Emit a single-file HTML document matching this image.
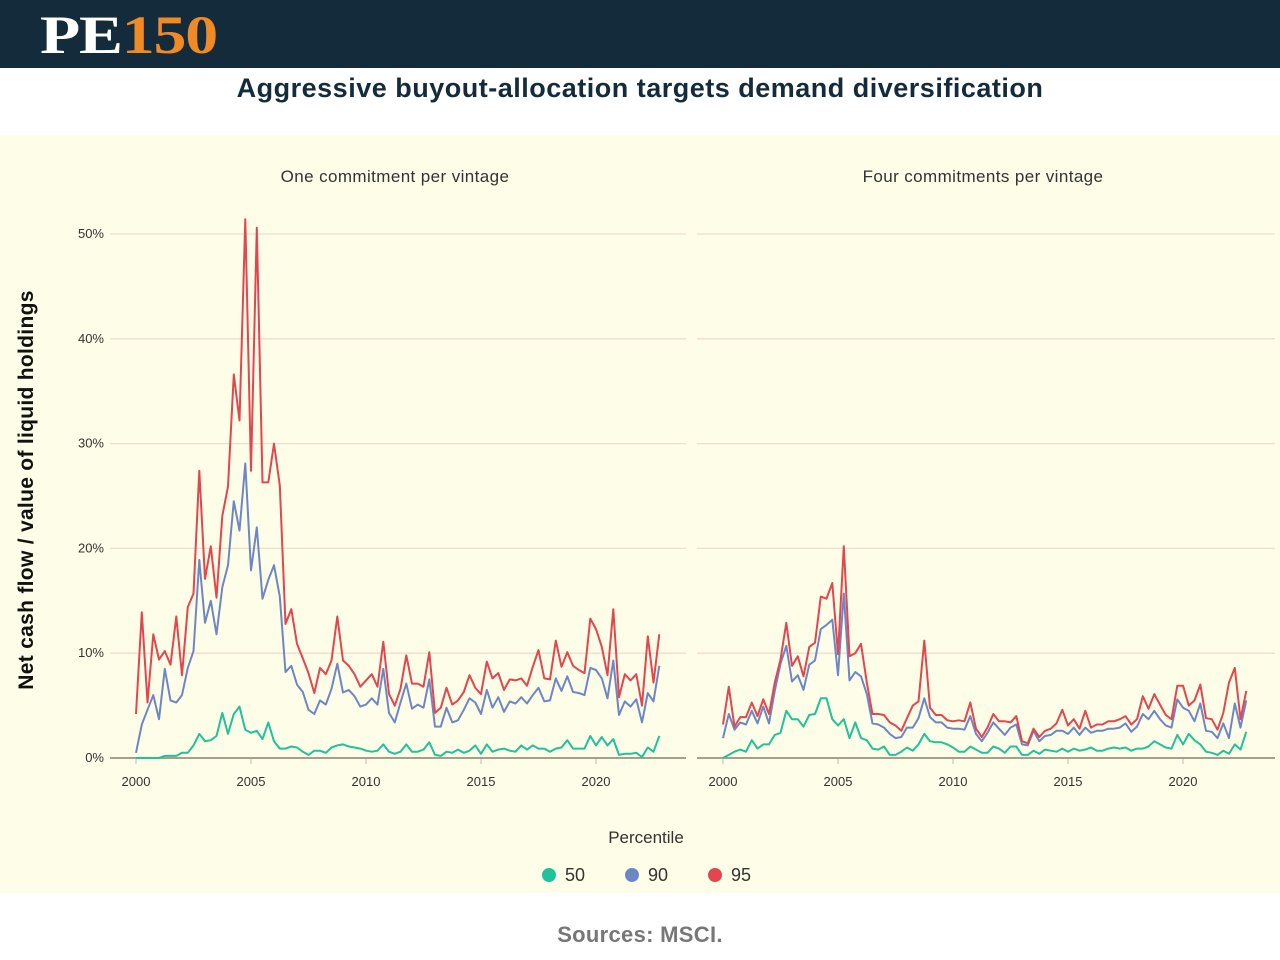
<!DOCTYPE html>
<html><head><meta charset="utf-8"><style>
body{margin:0;width:1280px;height:960px;background:#fff;font-family:"Liberation Sans",sans-serif;overflow:hidden}
#hdr{position:absolute;left:0;top:0;width:1280px;height:68px;background:#132b3a}
#logo{position:absolute;left:40px;top:4px;font-family:"Liberation Serif",serif;font-weight:bold;font-size:54px;letter-spacing:-1px;transform:scaleX(1.22);transform-origin:0 0}
#title{position:absolute;top:73px;width:1280px;text-align:center;font-size:27px;font-weight:bold;color:#132b3a;letter-spacing:0.5px}
#panel{position:absolute;left:0;top:135px;width:1280px;height:758px;background:#fefde8}
#src{position:absolute;top:922px;width:1280px;text-align:center;font-size:22px;font-weight:bold;color:#777;letter-spacing:0.3px}
</style></head><body>
<div id="hdr"><div id="logo"><span style="color:#fff">PE</span><span style="color:#f08a24">150</span></div></div>
<div id="title">Aggressive buyout-allocation targets demand diversification</div>
<div id="panel"></div>
<svg id="chart" width="1280" height="960" style="position:absolute;left:0;top:0" font-family="Liberation Sans, sans-serif"></svg>
<div id="src">Sources: MSCI.</div>
<script>
const percentiles=["50","90","95"];
const yTicks=[0,10,20,30,40,50];
const xTicks=[2000,2005,2010,2015,2020];
const panelTitles=["One commitment per vintage","Four commitments per vintage"];
const oneP50=[0,0,0,0,0,0.2,0.2,0.2,0.5,0.5,1.2,2.3,1.6,1.7,2.1,4.3,2.3,4.2,4.9,2.7,2.4,2.6,1.8,3.4,1.6,0.9,0.9,1.1,1.0,0.6,0.3,0.7,0.7,0.5,1.0,1.2,1.3,1.1,1.0,0.9,0.7,0.6,0.7,1.3,0.6,0.4,0.6,1.3,0.6,0.6,0.8,1.5,0.3,0.2,0.6,0.5,0.8,0.5,0.7,1.2,0.4,1.3,0.6,0.8,0.9,0.7,0.6,1.2,0.8,1.2,0.9,0.9,0.6,0.9,1.0,1.7,0.9,0.9,0.9,2.1,1.2,2.0,1.2,1.8,0.3,0.4,0.4,0.5,0.1,1.0,0.6,2.1];
const oneP90=[0.5,3.2,4.6,6,3.7,8.5,5.5,5.3,6,8.6,10.2,18.9,12.9,15,11.8,16.3,18.4,24.5,21.7,28.1,17.9,22,15.2,17,18.4,15.4,8.2,8.8,7,6.3,4.6,4.2,5.5,5.1,6.6,9.0,6.25,6.5,5.9,4.9,5.1,5.7,5.1,8.5,4.3,3.4,5.3,7.1,4.7,5.1,4.8,7.5,3.0,3.0,4.8,3.4,3.6,4.6,5.7,5.3,4.2,6.5,4.8,5.8,4.4,5.4,5.2,5.8,5.2,6.0,6.7,5.4,5.5,7.6,6.4,7.8,6.3,6.2,6.0,8.6,8.4,7.6,5.7,9.3,4.1,5.4,4.9,5.6,3.4,6.2,5.4,8.8];
const oneP95=[4.2,13.9,5.3,11.8,9.4,10.2,8.9,13.5,7.9,14.4,15.7,27.4,17.1,20.2,15.3,23.1,25.9,36.6,32.2,51.4,27.4,50.6,26.3,26.3,30,26,12.8,14.2,10.9,9.5,8.1,6.2,8.6,8.0,9.3,13.5,9.3,8.8,8.0,6.8,7.4,8.0,6.8,11.1,6.1,5.0,6.6,9.8,7.1,7.1,6.8,10.1,4.3,4.8,6.7,5.1,5.5,6.3,7.9,6.7,6.1,9.2,7.6,8.1,6.5,7.5,7.4,7.6,6.9,8.7,10.3,7.6,7.5,11.2,8.7,10.1,8.8,8.4,8.1,13.3,12.3,10.6,7.9,14.2,5.8,8.0,7.4,8.0,5.0,11.6,7.2,11.8];
const fourP50=[0,0.3,0.6,0.8,0.6,1.7,0.9,1.3,1.3,2.2,2.4,4.5,3.7,3.7,3.0,4.1,4.2,5.7,5.7,3.7,3.1,3.7,1.9,3.4,1.9,1.7,0.9,0.8,1.1,0.3,0.3,0.6,1.0,0.7,1.3,2.3,1.6,1.5,1.5,1.3,1.0,0.6,0.6,1.1,0.8,0.5,0.5,1.1,0.9,0.5,1.1,1.1,0.3,0.3,0.7,0.4,0.8,0.7,0.6,0.9,0.6,0.9,0.7,0.8,1.0,0.7,0.7,0.9,1.0,0.9,1.0,0.7,0.9,0.9,1.1,1.6,1.3,1.0,0.9,2.2,1.3,2.3,1.7,1.3,0.6,0.5,0.3,0.7,0.4,1.3,0.8,2.5];
const fourP90=[1.9,4.2,2.7,3.4,3.2,4.5,3.3,4.9,3.3,6.4,9.0,10.7,7.3,7.9,6.5,8.9,9.3,12.3,12.7,13.2,7.9,15.7,7.4,8.2,7.8,6.1,3.3,3.2,2.9,2.3,1.9,2.0,2.9,2.9,3.8,5.7,3.9,3.4,3.4,2.9,2.8,2.8,2.7,4.0,2.3,1.6,2.4,3.4,2.8,2.2,2.9,3.2,1.3,1.2,2.6,1.6,2.1,2.2,2.6,2.6,2.3,2.9,2.2,2.9,2.4,2.6,2.6,2.8,2.8,2.9,3.3,2.5,3.0,4.2,3.7,4.5,3.7,3.1,2.9,5.6,4.8,4.5,3.5,5.2,2.6,2.5,1.9,3.3,1.9,5.2,2.9,5.5];
const fourP95=[3.2,6.8,3.0,3.9,3.9,5.3,4.0,5.6,4.2,7.2,9.4,12.9,8.8,9.7,7.8,10.6,11.0,15.4,15.2,16.7,9.9,20.2,9.7,10.0,10.9,7.2,4.2,4.2,4.1,3.4,3.1,2.6,3.8,5.0,5.4,11.2,4.8,4.1,4.1,3.6,3.5,3.6,3.5,5.3,2.8,2.0,2.9,4.2,3.5,3.5,3.4,4.0,1.6,1.4,2.8,2.0,2.6,2.8,3.3,4.6,3.1,3.7,2.8,4.5,2.9,3.2,3.2,3.5,3.5,3.7,4.0,3.2,3.7,5.9,4.7,6.1,5.1,4.1,3.7,6.9,6.9,5.0,5.5,7.0,3.8,3.7,2.7,4.3,7.2,8.6,3.7,6.4];
const colors=["#1fc29a","#6d87c6","#e2464f"];
const NS="http://www.w3.org/2000/svg";
const svg=document.getElementById('chart');
function mk(t,a){const e=document.createElementNS(NS,t);for(const k in a)e.setAttribute(k,a[k]);svg.appendChild(e);return e;}
const yS=v=>758-v*10.48;
const panels=[{x0:136,gx0:110,gx1:686,cx:395,data:[oneP50,oneP90,oneP95]},{x0:723,gx0:697,gx1:1275,cx:983,data:[fourP50,fourP90,fourP95]}];
panels.forEach((p,pi)=>{
 const xS=yr=>p.x0+(yr-2000)*23;
 yTicks.forEach(t=>{if(t>0){const g=mk('line',{x1:p.gx0,x2:p.gx1,y1:yS(t),y2:yS(t),stroke:'#f0ddd0','stroke-width':1.3});
 
 }
 if(pi===0){const l=mk('text',{x:104,y:yS(t)+4,'text-anchor':'end','font-size':13,fill:'#333'});l.textContent=t+'%';
 
 }});
 const ax=mk('line',{x1:p.gx0,x2:p.gx1,y1:758,y2:758,stroke:'#8a8070','stroke-width':1.5});
 
 
 xTicks.forEach(t=>{mk('line',{x1:xS(t),x2:xS(t),y1:759,y2:764,stroke:'#bbb'});
 const l=mk('text',{x:xS(t),y:786,'text-anchor':'middle','font-size':13,fill:'#333'});l.textContent=t;
 
 });
 const tt=mk('text',{x:p.cx,y:182,'text-anchor':'middle','font-size':17,fill:'#333','letter-spacing':0.4});tt.textContent=panelTitles[pi];
 
 
 p.data.forEach((arr,si)=>{const pts=arr.map((v,i)=>xS(2000+i/4).toFixed(1)+','+yS(v).toFixed(1)).join(' ');
 const pl=mk('polyline',{points:pts,fill:'none',stroke:colors[si],'stroke-width':2,'stroke-linejoin':'round'});
 
 });
});
const yt=mk('text',{x:0,y:0,transform:'translate(33,490) rotate(-90)','text-anchor':'middle','font-size':21,'font-weight':'bold',fill:'#111','letter-spacing':0.3});
yt.textContent='Net cash flow / value of liquid holdings';


const lt=mk('text',{x:646,y:843,'text-anchor':'middle','font-size':17,fill:'#333'});lt.textContent='Percentile';


const lx=[549,632,715];
percentiles.forEach((p,i)=>{const c=mk('circle',{cx:lx[i],cy:875,r:7,fill:colors[i]});
 
 
 const t=mk('text',{x:lx[i]+16,y:881,'font-size':18,fill:'#333'});t.textContent=p;
 
 });
</script>
</body></html>
